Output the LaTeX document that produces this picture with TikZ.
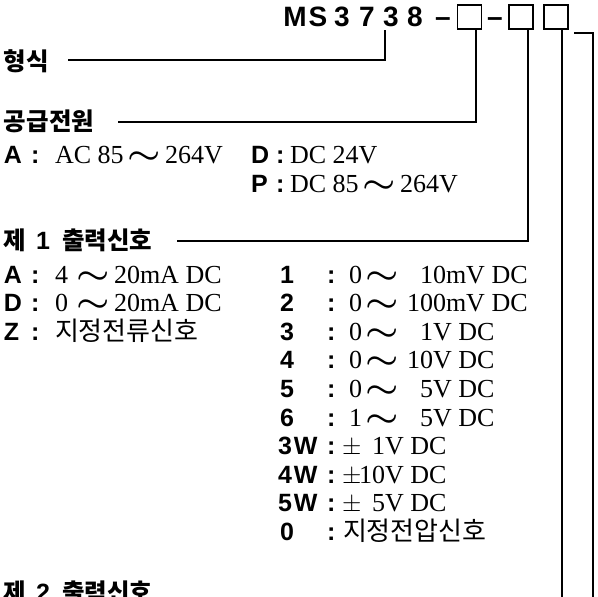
\documentclass[tikz,border=0pt]{standalone}
\usepackage{fontspec}
\setmainfont{Liberation Serif}
\newfontfamily\labf{Liberation Sans}
\newfontfamily\krf{Noto Sans CJK KR}
\newcommand\wv{\scalebox{1.5}[1.2]{\boldmath$\sim$}}
\begin{document}
\begin{tikzpicture}[x=1pt,y=-1pt,
  every node/.style={inner sep=0pt, outer sep=0pt, anchor=base west},
  lab/.style={font=\labf\bfseries\fontsize{25}{25}\selectfont},
  val/.style={font=\fontsize{26}{26}\selectfont},
  kor/.style={font=\krf\fontsize{26}{26}\selectfont},
  korh/.style={font=\krf\bfseries\fontsize{24.5}{24}\selectfont},
  ttl/.style={font=\labf\bfseries\fontsize{28}{28}\selectfont, anchor=base},
  conn/.style={line width=1.3pt},
  sqbox/.style={draw, line width=1.8pt, minimum width=24pt, minimum height=24pt, anchor=center}]
\useasboundingbox[fill=white] (0,0) rectangle (598,597);
% title
\node[ttl] (tM) at (295,27) {M};
\node[ttl] (tS) at (318,27) {S};
\node[ttl] (t3a) at (342,27) {3};
\node[ttl] (t7) at (367,27) {7};
\node[ttl] (t3b) at (391,27) {3};
\node[ttl] (t8) at (415,27) {8};
\node[ttl] (d1) at (443,27) {–};
\node[sqbox] (b1) at (469.5,17) {};
\node[ttl] (d2) at (495,27) {–};
\node[sqbox] (b2) at (520.8,17) {};
\node[sqbox] (b3) at (555.8,17) {};
% connectors
\coordinate (c1a) at (385,30); \coordinate (c1b) at (385,60); \coordinate (c1c) at (68,60);
\coordinate (c2a) at (476,29); \coordinate (c2b) at (476,122); \coordinate (c2c) at (118,122);
\coordinate (c3a) at (528,29); \coordinate (c3b) at (528,241); \coordinate (c3c) at (177,241);
\coordinate (c4a) at (562,29); \coordinate (c4b) at (562,600);
\coordinate (c5a) at (574,33); \coordinate (c5b) at (593,33); \coordinate (c5c) at (593,600);
\draw[conn] (c1a) -- (c1b) -- (c1c);
\draw[conn] (c2a) -- (c2b) -- (c2c);
\draw[conn] (c3a) -- (c3b) -- (c3c);
\draw[conn] (c4a) -- (c4b);
\draw[conn] (c5a) -- (c5b) -- (c5c);
% headings
\node[korh] (h1) at (4,70) {형식};
\node[korh] (h2) at (4,130) {공급전원};
\node[korh] (h3a) at (4,249) {제};
\node[lab] (h3b) at (36,249) {1};
\node[korh] (h3c) at (62,249) {출력신호};
\node[korh] (h4a) at (4,601) {제};
\node[lab] (h4b) at (36,601) {2};
\node[korh] (h4c) at (62,601) {출력신호};
% power rows
\node[lab] (pA) at (4,163) {A};
\node[lab] (pAc) at (31,163) {:};
\node[val] (pAv1) at (55,163) {AC 85};
\node[val] (pAw) at (127,163) {\wv};
\node[val] (pAv3) at (165,163) {264V};
\node[lab] (pD) at (251,163) {D};
\node[lab] (pDc) at (276,163) {:};
\node[val] (pDv1) at (290,163) {DC 24V};
\node[lab] (pP) at (251,192) {P};
\node[lab] (pPc) at (276,192) {:};
\node[val] (pPv1) at (290,192) {DC 85};
\node[val] (pPw) at (362,192) {\wv};
\node[val] (pPv3) at (400,192) {264V};
% output left
\node[lab] (oA) at (4,283) {A};
\node[lab] (oAc) at (31,283) {:};
\node[val] (oAv1) at (55,283) {4};
\node[val] (oAw) at (76,283) {\wv};
\node[val] (oAv2) at (114,283) {20mA DC};
\node[lab] (oD) at (4,311.6) {D};
\node[lab] (oDc) at (31,311.6) {:};
\node[val] (oDv1) at (55,311.6) {0};
\node[val] (oDw) at (76,311.6) {\wv};
\node[val] (oDv2) at (114,311.6) {20mA DC};
\node[lab] (oZ) at (4,340.2) {Z};
\node[lab] (oZc) at (31,340.2) {:};
\node[kor] (oZv) at (55,340.2) {지정전류신호};
% output right
\node[lab] (r1) at (280,283) {1};
\node[lab] (r1c) at (327,283) {:};
\node[val] (r1a) at (349,283) {0};
\node[val] (r1w) at (365,283) {\wv};
\node[val] (r1b) at (407,283) {\phantom{0}10mV DC};
\node[lab] (r2) at (280,311.6) {2};
\node[lab] (r2c) at (327,311.6) {:};
\node[val] (r2a) at (349,311.6) {0};
\node[val] (r2w) at (365,311.6) {\wv};
\node[val] (r2b) at (407,311.6) {100mV DC};
\node[lab] (r3) at (280,340.2) {3};
\node[lab] (r3c) at (327,340.2) {:};
\node[val] (r3a) at (349,340.2) {0};
\node[val] (r3w) at (365,340.2) {\wv};
\node[val] (r3b) at (407,340.2) {\phantom{0}1V DC};
\node[lab] (r4) at (280,368.8) {4};
\node[lab] (r4c) at (327,368.8) {:};
\node[val] (r4a) at (349,368.8) {0};
\node[val] (r4w) at (365,368.8) {\wv};
\node[val] (r4b) at (407,368.8) {10V DC};
\node[lab] (r5) at (280,397.4) {5};
\node[lab] (r5c) at (327,397.4) {:};
\node[val] (r5a) at (349,397.4) {0};
\node[val] (r5w) at (365,397.4) {\wv};
\node[val] (r5b) at (407,397.4) {\phantom{0}5V DC};
\node[lab] (r6) at (280,426) {6};
\node[lab] (r6c) at (327,426) {:};
\node[val] (r6a) at (349,426) {1};
\node[val] (r6w) at (365,426) {\wv};
\node[val] (r6b) at (407,426) {\phantom{0}5V DC};
\node[lab] (r7) at (278,454.6) {3\kern2pt W};
\node[lab] (r7c) at (327,454.6) {:};
\node[val] (r7a) at (342,454.6) {$\pm$};
\node[val] (r7b) at (359,454.6) {\phantom{0}1V DC};
\node[lab] (r8) at (278,483.2) {4\kern2pt W};
\node[lab] (r8c) at (327,483.2) {:};
\node[val] (r8a) at (342,483.2) {$\pm$};
\node[val] (r8b) at (359,483.2) {10V DC};
\node[lab] (r9) at (278,511.8) {5\kern2pt W};
\node[lab] (r9c) at (327,511.8) {:};
\node[val] (r9a) at (342,511.8) {$\pm$};
\node[val] (r9b) at (359,511.8) {\phantom{0}5V DC};
\node[lab] (r0) at (280,540.4) {0};
\node[lab] (r0c) at (327,540.4) {:};
\node[kor] (r0v) at (343,540.4) {지정전압신호};
\end{tikzpicture}
\end{document}
